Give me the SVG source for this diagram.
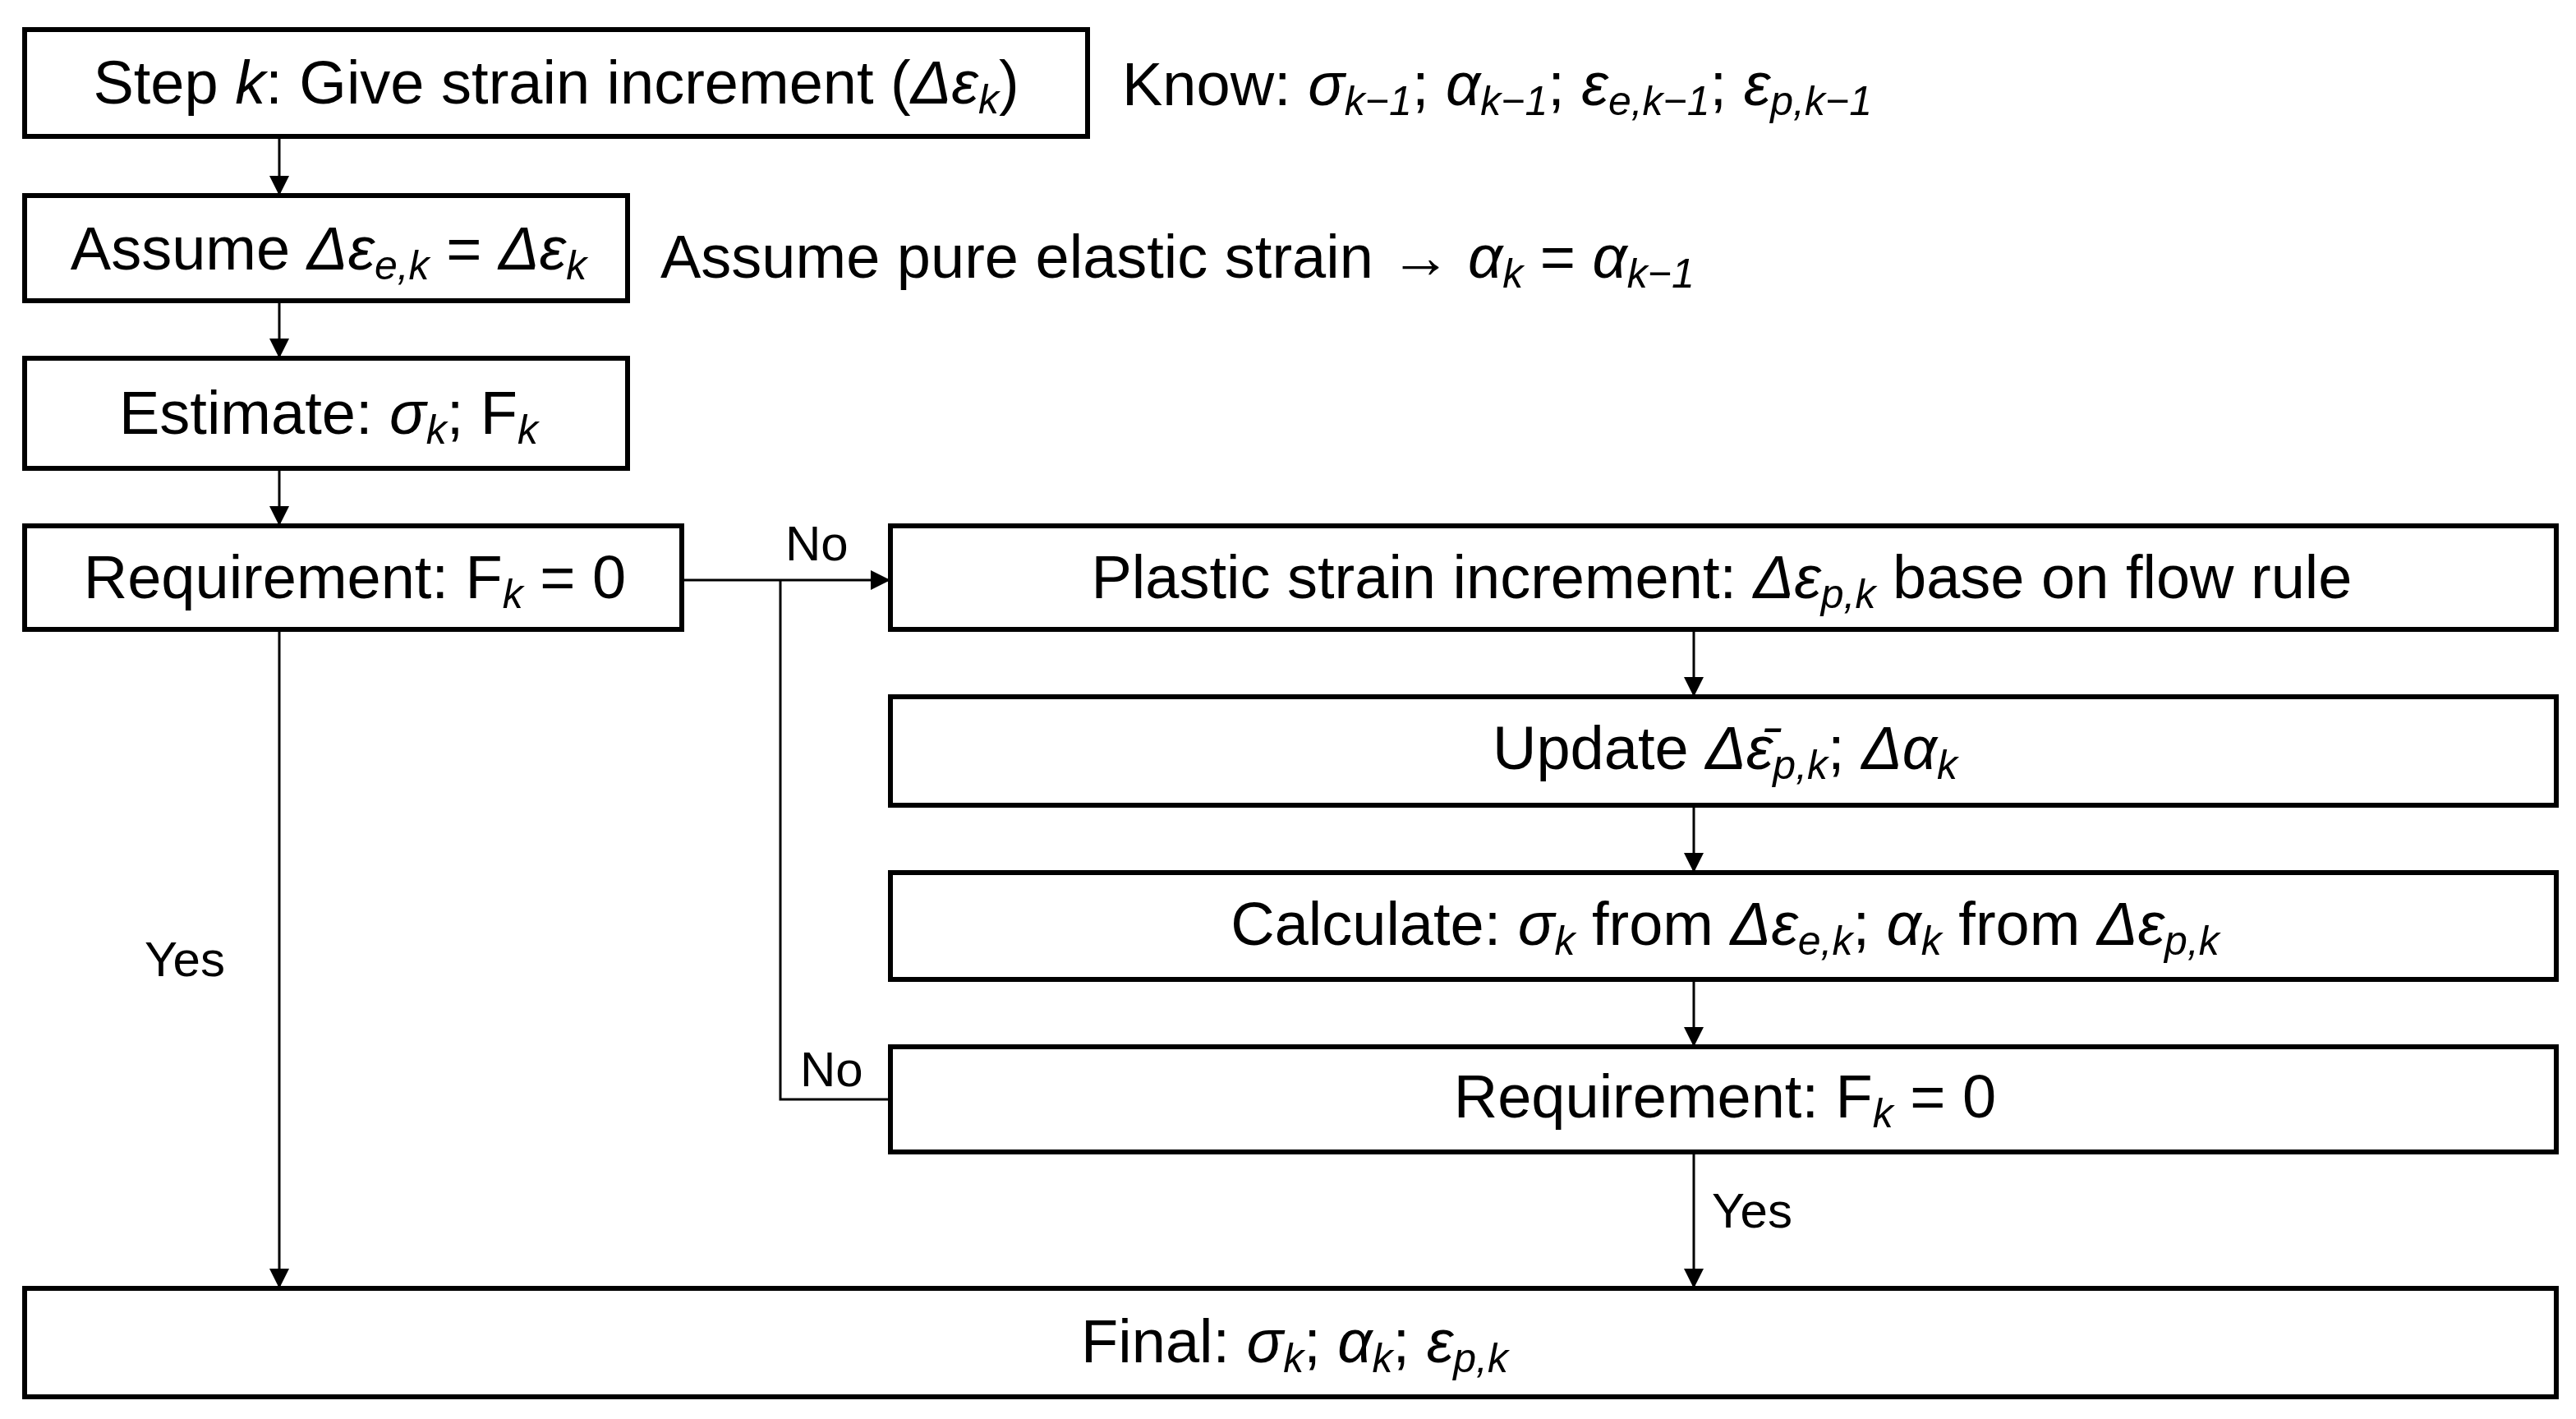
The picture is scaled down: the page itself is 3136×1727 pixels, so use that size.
<svg xmlns="http://www.w3.org/2000/svg" width="3136" height="1727" viewBox="0 0 3136 1727">
<style>
rect{fill:#fff;stroke:#000;stroke-width:6}
text{font-family:"Liberation Sans",Arial,sans-serif;font-size:74px;fill:#000}
.c{text-anchor:middle}
.i{font-style:italic}
.s{font-size:50px;font-style:italic}
.l{font-size:60px}
line,polyline{stroke:#000;stroke-width:3;fill:none}
</style>
<defs>
<marker id="b" viewBox="0 0 10 10" refX="10" refY="5" markerWidth="24" markerHeight="30" orient="auto" markerUnits="userSpaceOnUse"><path d="M0,0L10,5L0,10z"/></marker></defs>
<g id="connectors">
<line x1="340" y1="166" x2="340" y2="238" marker-end="url(#b)"/>
<line x1="340" y1="366" x2="340" y2="436" marker-end="url(#b)"/>
<line x1="340" y1="570" x2="340" y2="640" marker-end="url(#b)"/>
<line x1="340" y1="766" x2="340" y2="1568" marker-end="url(#b)"/>
<line x1="830" y1="706" x2="1084" y2="706" marker-end="url(#b)"/>
<polyline points="1084,1338 950,1338 950,706"/>
<line x1="2062" y1="766" x2="2062" y2="848" marker-end="url(#b)"/>
<line x1="2062" y1="980" x2="2062" y2="1062" marker-end="url(#b)"/>
<line x1="2062" y1="1192" x2="2062" y2="1274" marker-end="url(#b)"/>
<line x1="2062" y1="1402" x2="2062" y2="1568" marker-end="url(#b)"/>
<text class="l" x="956" y="682">No</text>
<text class="l" x="974" y="1322">No</text>
<text class="l" x="176" y="1188">Yes</text>
<text class="l" x="2084" y="1494">Yes</text>
</g>
<g id="n1"><rect x="30" y="36" width="1294" height="130"/>
<text class="c" x="677" y="126">Step <tspan class="i">k</tspan>: Give strain increment (<tspan class="i">Δε</tspan><tspan class="s" dy="12">k</tspan><tspan dy="-12">)</tspan></text></g>
<g id="know"><text x="1366" y="128">Know: <tspan class="i">σ</tspan><tspan class="s" dy="12">k−1</tspan><tspan dy="-12">; </tspan><tspan class="i">α</tspan><tspan class="s" dy="12">k−1</tspan><tspan dy="-12">; </tspan><tspan class="i">ε</tspan><tspan class="s" dy="12">e,k−1</tspan><tspan dy="-12">; </tspan><tspan class="i">ε</tspan><tspan class="s" dy="12">p,k−1</tspan></text></g>
<g id="n2"><rect x="30" y="238" width="734" height="128"/>
<text class="c" x="400" y="328">Assume <tspan class="i">Δε</tspan><tspan class="s" dy="12">e,k</tspan><tspan dy="-12"> = </tspan><tspan class="i">Δε</tspan><tspan class="s" dy="12">k</tspan></text></g>
<g id="assume"><text x="804" y="338">Assume pure elastic strain <tspan font-weight="bold">→</tspan> <tspan class="i">α</tspan><tspan class="s" dy="12">k</tspan><tspan dy="-12"> = </tspan><tspan class="i">α</tspan><tspan class="s" dy="12">k−1</tspan></text></g>
<g id="n3"><rect x="30" y="436" width="734" height="134"/>
<text class="c" x="400" y="528">Estimate: <tspan class="i">σ</tspan><tspan class="s" dy="12">k</tspan><tspan dy="-12">; F</tspan><tspan class="s" dy="12">k</tspan></text></g>
<g id="n4"><rect x="30" y="640" width="800" height="126"/>
<text class="c" x="432" y="728">Requirement: F<tspan class="s" dy="12">k</tspan><tspan dy="-12"> = 0</tspan></text></g>
<g id="n5"><rect x="1084" y="640" width="2028" height="126"/>
<text class="c" x="2096" y="728">Plastic strain increment: <tspan class="i">Δε</tspan><tspan class="s" dy="12">p,k</tspan><tspan dy="-12"> base on flow rule</tspan></text></g>
<g id="n6"><rect x="1084" y="848" width="2028" height="132"/>
<text class="c" x="2100" y="936">Update <tspan class="i">Δε̄</tspan><tspan class="s" dy="12">p,k</tspan><tspan dy="-12">; </tspan><tspan class="i">Δα</tspan><tspan class="s" dy="12">k</tspan></text></g>
<g id="n7"><rect x="1084" y="1062" width="2028" height="130"/>
<text class="c" x="2100" y="1150">Calculate: <tspan class="i">σ</tspan><tspan class="s" dy="12">k</tspan><tspan dy="-12"> from </tspan><tspan class="i">Δε</tspan><tspan class="s" dy="12">e,k</tspan><tspan dy="-12">; </tspan><tspan class="i">α</tspan><tspan class="s" dy="12">k</tspan><tspan dy="-12"> from </tspan><tspan class="i">Δε</tspan><tspan class="s" dy="12">p,k</tspan></text></g>
<g id="n8"><rect x="1084" y="1274" width="2028" height="128"/>
<text class="c" x="2100" y="1360">Requirement: F<tspan class="s" dy="12">k</tspan><tspan dy="-12"> = 0</tspan></text></g>
<g id="n9"><rect x="30" y="1568" width="3082" height="132"/>
<text class="c" x="1576" y="1658">Final: <tspan class="i">σ</tspan><tspan class="s" dy="12">k</tspan><tspan dy="-12">; </tspan><tspan class="i">α</tspan><tspan class="s" dy="12">k</tspan><tspan dy="-12">; </tspan><tspan class="i">ε</tspan><tspan class="s" dy="12">p,k</tspan></text></g>
</svg>
